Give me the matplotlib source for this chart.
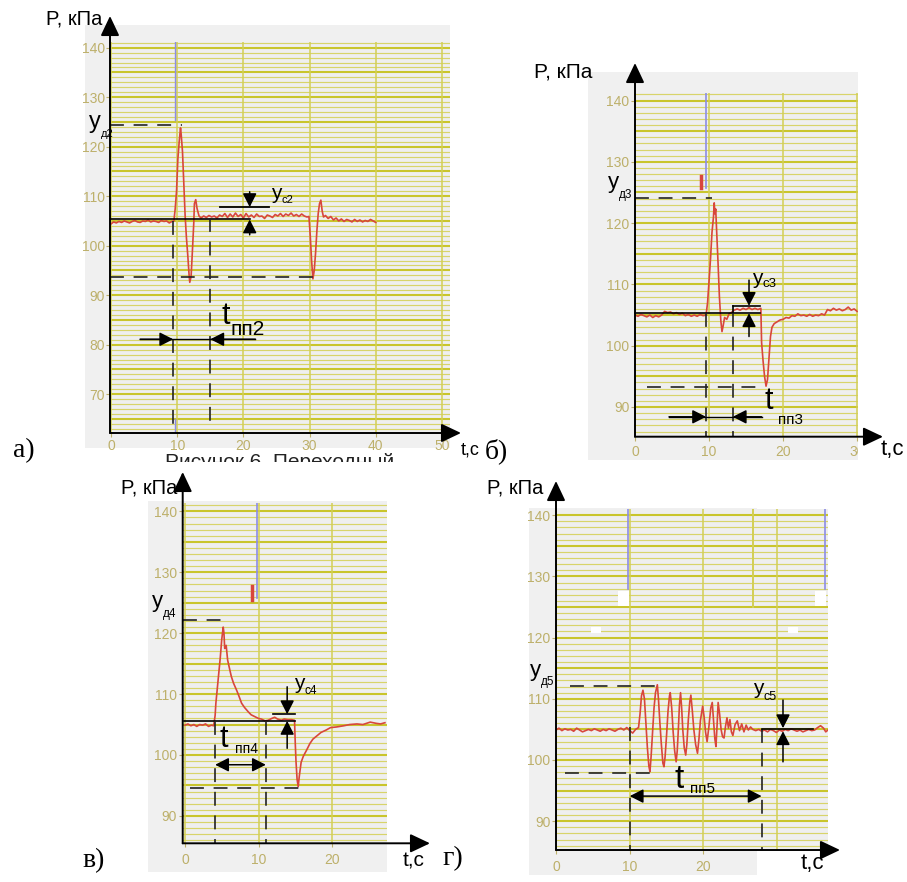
import math
import matplotlib
matplotlib.use('Agg')
import matplotlib.pyplot as plt
from matplotlib.patches import Rectangle
from matplotlib.transforms import Bbox

plt.rcParams['font.family'] = ['Liberation Sans', 'DejaVu Sans']
plt.rcParams['lines.scale_dashes'] = False

# ------------------------------------------------------------------ data
# panel а
ta = [0, 0.4, 0.8, 1.2, 1.6, 2.0, 2.4, 2.8, 3.2, 3.6, 4.0, 4.4, 4.8, 5.2, 5.6, 6.0, 6.4, 6.8, 7.2, 7.6,
      8.0, 8.4, 8.8, 9.2, 9.5, 9.7, 9.9, 10.1, 10.3, 10.5, 10.6, 10.8, 11.0, 11.2, 11.4, 11.6, 11.8, 11.9,
      12.1, 12.3, 12.5, 12.6, 12.8, 13.0, 13.3, 13.6, 14.0, 14.4, 14.8, 15.2, 15.6, 16.0, 16.4, 16.8, 17.2,
      17.6, 18.0, 18.4, 18.8, 19.2, 19.6, 20.0, 20.4, 20.8, 21.2, 21.6, 22.0, 22.4, 22.8, 23.2, 23.6, 24.0,
      24.4, 24.8, 25.2, 25.6, 26.0, 26.4, 26.8, 27.2, 27.6, 28.0, 28.4, 28.8, 29.2, 29.6, 29.9, 30.1, 30.3,
      30.5, 30.7, 30.9, 31.1, 31.3, 31.5, 31.7, 31.9, 32.1, 32.4, 32.8, 33.2, 33.6, 34.0, 34.4, 34.8, 35.2,
      35.6, 36.0, 36.4, 36.8, 37.2, 37.6, 38.0, 38.4, 38.8, 39.2, 39.6, 40.0]
pa = [104.4, 104.8, 104.6, 104.9, 104.7, 105.0, 104.8, 104.6, 104.9, 105.1, 104.8, 104.7, 105.0, 104.9,
      105.2, 104.8, 105.0, 104.9, 104.7, 105.1, 104.9, 105.0, 104.6, 104.9, 105.0, 107.5, 111.0, 117.5,
      121.0, 123.8, 122.5, 119.0, 112.5, 106.0, 101.5, 98.0, 94.0, 92.6, 93.8, 99.0, 104.5, 108.5, 109.3,
      107.5, 106.0, 105.6, 106.0, 105.7, 106.1, 105.8, 106.0, 105.6, 106.2, 105.9, 106.5, 105.7, 106.4,
      105.8, 106.6, 105.9, 106.3, 105.6, 106.5, 105.8, 106.2, 105.7, 106.4, 105.9, 106.0, 105.5, 106.2,
      106.0, 105.7, 106.3, 106.0, 106.5, 105.9, 106.4, 106.1, 106.6, 106.0, 106.3, 105.9, 106.4, 106.0,
      105.8, 105.9, 102.0, 97.0, 93.3, 95.0, 98.5, 103.0, 106.5, 108.5, 109.2, 107.0, 105.8, 106.1, 105.5,
      105.9, 105.2, 105.6, 105.0, 105.4, 104.9, 105.3, 105.1, 104.8, 105.3, 104.9, 105.2, 104.8, 105.1,
      104.9, 105.3, 105.0, 104.7]

# panel б
tb = [0, 0.4, 0.8, 1.2, 1.6, 2.0, 2.4, 2.8, 3.2, 3.6, 4.0, 4.4, 4.8, 5.2, 5.6, 6.0, 6.4, 6.8, 7.2, 7.6,
      8.0, 8.4, 8.8, 9.2, 9.6, 9.8, 10.0, 10.2, 10.4, 10.6, 10.7, 10.8, 10.9, 11.0, 11.2, 11.4, 11.6, 11.75,
      11.9, 12.1, 12.4, 12.7, 13.0, 13.4, 13.8, 14.2, 14.6, 15.0, 15.4, 15.8, 16.2, 16.6, 17.0, 17.1, 17.3,
      17.5, 17.7, 17.9, 18.1, 18.3, 18.5, 18.8, 19.2, 19.6, 20.0, 20.4, 20.8, 21.2, 21.6, 22.0, 22.4, 22.8,
      23.2, 23.6, 24.0, 24.4, 24.8, 25.2, 25.6, 26.0, 26.4, 26.8, 27.2, 27.6, 28.0, 28.4, 28.8, 29.2, 29.6,
      30.0]
pb = [105.0, 104.8, 105.1, 104.9, 104.7, 105.0, 104.6, 104.9, 104.7, 105.0, 105.6, 105.4, 105.5, 105.2,
      105.4, 105.1, 105.3, 104.9, 105.1, 104.8, 105.0, 104.8, 105.1, 104.9, 105.0, 107.0, 110.5, 114.2,
      118.5, 121.0, 123.3, 121.5, 122.3, 119.5, 114.0, 108.0, 104.0, 102.3, 103.2, 104.6, 104.3, 105.2,
      105.4, 105.8, 106.0, 105.8, 106.1, 105.9, 106.2, 105.9, 106.1, 105.9, 106.1, 100.5, 97.5, 95.0, 93.4,
      94.5, 98.0, 101.5, 103.0, 103.6, 103.9, 104.2, 104.3, 104.6, 104.5, 104.9, 104.8, 105.2, 104.9, 105.0,
      104.8, 105.1, 104.8, 105.0, 104.9, 105.2, 105.0, 105.9, 105.7, 106.1, 105.8, 106.0, 105.7, 105.9,
      106.3, 105.8, 106.0, 105.6]

# panel в
tc = [0, 0.4, 0.8, 1.2, 1.6, 2.0, 2.4, 2.8, 3.2, 3.6, 3.9, 4.1, 4.2, 4.4, 4.6, 4.8, 5.0, 5.2, 5.3, 5.4,
      5.6, 5.8, 6.0, 6.3, 6.6, 7.0, 7.3, 7.7, 8.1, 8.6, 9.0, 9.5, 10.0, 10.4, 10.9, 11.3, 11.8, 12.2, 12.6,
      13.1, 13.5, 14.0, 14.5, 14.9, 15.0, 15.1, 15.25, 15.4, 15.55, 15.8, 16.1, 16.5, 17.0, 17.4, 18.0,
      18.5, 19.2, 19.8, 20.6, 21.6, 22.4, 23.4, 24.2, 25.2, 26.0, 26.6, 27.2]
pc = [104.9, 105.1, 104.8, 105.0, 104.7, 105.0, 104.9, 105.1, 104.7, 104.9, 104.8, 106.5, 108.5, 111.0,
      113.5, 116.0, 119.0, 121.0, 120.0, 117.5, 118.0, 115.6, 114.5, 112.9, 111.8, 110.7, 109.8, 108.5,
      107.8, 107.1, 106.6, 106.3, 106.0, 105.9, 105.6, 105.7, 106.0, 106.2, 105.9, 105.7, 105.9, 105.8,
      105.8, 105.7, 102.0, 99.0, 96.0, 94.8, 96.5, 98.8, 99.8, 100.7, 101.9, 102.6, 103.2, 103.7, 104.1,
      104.5, 104.6, 104.8, 105.0, 105.1, 105.0, 105.4, 105.2, 105.1, 105.3]

# panel г
td = [0, 0.4, 0.8, 1.2, 1.6, 2.0, 2.4, 2.8, 3.2, 3.6, 4.0, 4.4, 4.8, 5.2, 5.6, 6.0, 6.4, 6.8, 7.2, 7.6,
      8.0, 8.4, 8.8, 9.2, 9.6, 10.0, 10.4, 10.8, 11.2, 11.4, 11.6, 11.8, 12.0, 12.2, 12.4, 12.6, 12.75,
      12.9, 13.1, 13.3, 13.5, 13.75, 13.9, 14.1, 14.3, 14.5, 14.65, 14.8, 15.0, 15.2, 15.4, 15.5, 15.7,
      15.9, 16.1, 16.3, 16.45, 16.6, 16.75, 16.9, 17.05, 17.2, 17.4, 17.6, 17.75, 17.95, 18.15, 18.3, 18.5,
      18.7, 18.95, 19.2, 19.4, 19.6, 19.9, 20.1, 20.3, 20.5, 20.75, 21.0, 21.2, 21.4, 21.55, 21.7, 21.85,
      22.0, 22.2, 22.4, 22.6, 22.8, 23.0, 23.2, 23.4, 23.6, 23.8, 24.0, 24.3, 24.6, 24.9, 25.2, 25.5, 25.8,
      26.1, 26.4, 26.7, 27.1, 27.5, 27.9, 28.3, 28.7, 29.1, 29.5, 29.9, 30.3, 30.7, 31.1, 31.5, 31.9, 32.3,
      32.7, 33.1, 33.5, 33.9, 34.3, 34.7, 35.1, 35.5, 35.9, 36.3, 36.6, 36.9]
pd_ = [104.9, 105.2, 104.8, 105.1, 104.9, 105.0, 104.7, 105.2, 104.9, 104.6, 104.8, 105.0, 104.8, 105.1,
       104.9, 104.7, 105.0, 104.8, 105.1, 104.9, 104.7, 105.0, 105.2, 104.9, 105.3, 104.8, 104.4, 105.0,
       105.3, 107.5, 110.5, 111.4, 110.0, 106.0, 102.0, 99.0, 98.1, 100.5, 104.5, 108.5, 111.0, 112.3,
       110.0, 106.0, 102.5, 99.5, 98.9, 100.5, 104.0, 108.0, 110.5, 111.0, 108.5, 104.5, 101.5, 99.7,
       101.5, 105.0, 109.0, 111.0, 108.5, 105.0, 102.0, 100.8, 102.5, 106.5, 109.5, 110.6, 108.0, 105.0,
       102.5, 101.1, 103.5, 106.5, 108.8, 107.0, 104.5, 103.0, 105.5, 108.5, 109.4, 106.0, 103.5, 102.2,
       105.5, 109.4, 107.5, 105.0, 103.8, 103.6, 105.5, 106.9, 105.2, 106.6, 104.6, 104.0, 105.8, 106.4,
       104.8, 105.9, 104.6, 105.7, 104.9, 105.4, 105.0, 104.8, 105.0, 104.7, 104.9, 104.6, 105.0, 104.8,
       104.5, 104.9, 104.7, 105.0, 104.8, 105.1, 104.9, 104.7, 104.9, 104.6, 104.8, 105.0, 104.8, 104.9,
       105.3, 105.6, 105.2, 104.6, 104.9]

xticks_a = [0, 10, 20, 30, 40, 50]
yticks_a = [70, 80, 90, 100, 110, 120, 130, 140]
xticks_b = [0, 10, 20, 30]
xticks_cd = [0, 10, 20]
yticks_bcd = [90, 100, 110, 120, 130, 140]

# ------------------------------------------------------------------ styles
W, H = 907, 882
fig = plt.figure(figsize=(W / 100, H / 100), dpi=100)
fig.patch.set_facecolor('white')

BG = '#efefef'
THIN = '#d8d46a'
THICK = '#c9c52c'
VGRID = '#d3cf55'
TICKC = '#bdb06a'
RED = '#d8463c'
BLUE = '#8c8ce6'
DK = '#222222'
DASH = (10, 7)


def fx(px):
    return px / W


def fy(py):
    return 1 - py / H


def grey(l, t, r, b):
    fig.add_artist(Rectangle((fx(l), fy(b)), (r - l) / W, (b - t) / H, transform=fig.transFigure,
                             facecolor='#f0f0f0', edgecolor='none', zorder=-2))


def panel(box, mp, xt, yt, fs, xpad, ypad, tips):
    l, t, r, b = box
    x0, sx, y100, sy = mp
    ax = fig.add_axes([fx(l), fy(b), (r - l) / W, (b - t) / H])
    ax.set_facecolor(BG)
    xl, xh = (l - x0) / sx, (r - x0) / sx
    yl, yh = 100 - (b - y100) / sy, 100 + (y100 - t) / sy
    ax.set_xlim(xl, xh)
    ax.set_ylim(yl, yh)
    for s in ax.spines.values():
        s.set_visible(False)
    for v in range(math.ceil(yl), math.floor(yh) + 1):
        if v % 5 == 0:
            ax.axhline(v, color=THICK, lw=1.5, zorder=1)
        else:
            ax.axhline(v, color=THIN, lw=0.85, zorder=1)
    for v in range(0, int(xh) + 1, 10):
        ax.axvline(v, color=VGRID, lw=1.1, zorder=1.1)
    ax.set_xticks(xt)
    ax.set_yticks(yt)
    ax.tick_params(colors=TICKC, labelcolor=TICKC, labelsize=fs, length=3, width=0.8)
    ax.tick_params(axis='x', pad=xpad)
    ax.tick_params(axis='y', pad=ypad)
    tx = (tips[0] - l) / (r - l)
    ty = (b - tips[1]) / (b - t)
    ap = dict(arrowstyle='-|>,head_length=0.55,head_width=0.26', color='k', lw=1.4,
              shrinkA=0, shrinkB=0, mutation_scale=22)
    ax.annotate('', xy=(0, ty), xytext=(0, 0), xycoords='axes fraction', arrowprops=ap,
                annotation_clip=False, zorder=6)
    ax.annotate('', xy=(tx, 0), xytext=(0, 0), xycoords='axes fraction', arrowprops=ap,
                annotation_clip=False, zorder=6)
    return ax


def line(ax, xs, ys, dashed=False, lw=1.2):
    if dashed:
        ax.plot(xs, ys, color=DK, lw=lw, dashes=DASH, clip_on=False, zorder=4)
    else:
        ax.plot(xs, ys, color='k', lw=lw, clip_on=False, zorder=4)


def arr(ax, x1, y1, x2, y2, style='-|>', ms=15):
    ax.annotate('', xy=(x2, y2), xytext=(x1, y1),
                arrowprops=dict(arrowstyle=style + ',head_length=0.55,head_width=0.28', color='k', lw=1.1,
                                shrinkA=0, shrinkB=0, mutation_scale=ms),
                annotation_clip=False, zorder=5)


def sym(ax, xb, y_main, y_sub, main, sub, fs_main, fs_sub, xsub=None):
    """main symbol ends at xb, subscript starts at xsub (default xb)"""
    ax.text(xb, y_main, main, fontsize=fs_main, ha='right', va='center', color='k',
            clip_on=False, zorder=6)
    ax.text(xb if xsub is None else xsub, y_sub, sub, fontsize=fs_sub, ha='left', va='center',
            color='k', clip_on=False, zorder=6)


# grey backgrounds
grey(85, 25, 450, 448)
grey(588, 72, 858, 460)
grey(148, 501, 387, 872)
grey(529, 508, 757, 875)

# ------------------------------------------------------------------ panel а
ax = panel((110, 42, 450, 433), (111, 6.62, 245.7, 4.95), xticks_a, yticks_a, 10, 1.0, 0.5, (461, 16))
ax.plot([9.67, 9.67], [125.4, 141.5], color=BLUE, lw=1.0, zorder=2)
ax.plot([9.67, 9.67], [62.2, 65.0], color=BLUE, lw=1.0, zorder=2)
ax.plot(ta, pa, color=RED, lw=1.2, zorder=3)
line(ax, [-0.15, 10.8], [124.4, 124.4], dashed=True)
line(ax, [-0.15, 21.0], [105.3, 105.3])
line(ax, [-0.15, 30.5], [93.7, 93.7], dashed=True)
line(ax, [9.4, 9.4], [105.0, 63.2], dashed=True)
line(ax, [15.0, 15.0], [105.5, 63.2], dashed=True)
line(ax, [16.5, 23.8], [107.8, 107.8], lw=1.3)
line(ax, [4.4, 21.8], [81.1, 81.1], lw=1.0)
arr(ax, 4.4, 81.1, 9.4, 81.1)
arr(ax, 21.8, 81.1, 15.0, 81.1)
arr(ax, 20.95, 110.9, 20.95, 107.8)
arr(ax, 20.95, 102.2, 20.95, 105.3)
sym(ax, -1.5, 124.9, 122.6, 'у', 'д2', 17, 8)
sym(ax, 25.8, 110.5, 109.2, 'у', 'с2', 15, 8)
sym(ax, 18.0, 85.8, 83.0, 't', 'пп2', 22, 15)

# ------------------------------------------------------------------ panel б
ax = panel((635, 93.3, 857.7, 436.7), (634.5, 7.42, 345.7, 6.13), xticks_b, yticks_bcd, 10, 3, 1,
           (883, 63))
lab30 = ax.xaxis.get_major_ticks()[3].label1
lab30.set_clip_box(Bbox.from_extents(0, 0, 858, H))
lab30.set_clip_on(True)
ax.plot([9.6, 9.6], [125.8, 141.5], color=BLUE, lw=1.2, zorder=2)
ax.plot([8.85, 8.85], [125.8, 127.7], color=RED, lw=2.5, zorder=3)
ax.plot(tb, pb, color=RED, lw=1.2, zorder=3)
line(ax, [0, 10.4], [124.1, 124.1], dashed=True)
line(ax, [0, 16.9], [105.3, 105.3])
line(ax, [13.2, 16.9], [106.5, 106.5])
line(ax, [13.2, 13.2], [106.5, 105.3])
line(ax, [1.6, 17.6], [93.3, 93.3], dashed=True)
line(ax, [9.6, 9.6], [105.3, 85.2], dashed=True)
line(ax, [13.2, 13.2], [105.3, 85.2], dashed=True)
line(ax, [4.6, 17.1], [88.4, 88.4], lw=1.0)
arr(ax, 4.6, 88.4, 9.6, 88.4)
arr(ax, 17.1, 88.4, 13.2, 88.4)
arr(ax, 15.4, 110.7, 15.4, 106.5)
arr(ax, 15.4, 101.5, 15.4, 105.3)
sym(ax, -2.2, 126.6, 124.6, 'у', 'д3', 16, 8.5)
sym(ax, 17.2, 111.0, 110.1, 'у', 'с3', 15, 9.5)
sym(ax, 18.7, 90.9, 87.9, 't', 'пп3', 22, 11, xsub=19.3)

# ------------------------------------------------------------------ panel в
ax = panel((182.7, 503.3, 386.7, 843.3), (185, 7.35, 755, 6.09), xticks_cd, yticks_bcd, 10, 4, 1,
           (430, 472))
ax.plot([9.75, 9.75], [125.7, 141.5], color=BLUE, lw=1.2, zorder=2)
ax.plot([9.1, 9.1], [125.5, 127.8], color=RED, lw=2.5, zorder=3)
ax.plot(tc, pc, color=RED, lw=1.2, zorder=3)
line(ax, [-0.3, 5.3], [122.1, 122.1], dashed=True)
line(ax, [-0.2, 15.0], [105.6, 105.6])
line(ax, [0.7, 15.6], [94.6, 94.6], dashed=True)
line(ax, [4.1, 4.1], [105.6, 85.5], dashed=True)
line(ax, [11.0, 11.0], [105.6, 85.5], dashed=True)
line(ax, [12.0, 15.0], [106.7, 106.7])
arr(ax, 4.1, 98.4, 11.0, 98.4, style='<|-|>')
arr(ax, 13.9, 111.2, 13.9, 106.7)
arr(ax, 13.9, 101.1, 13.9, 105.6)
sym(ax, -3.0, 125.2, 123.2, 'у', 'д4', 16, 8.5)
sym(ax, 16.2, 111.8, 110.5, 'у', 'с4', 15, 8.5)
sym(ax, 5.9, 102.6, 101.0, 't', 'пп4', 22, 10, xsub=6.8)

# ------------------------------------------------------------------ panel г
ax = panel((556, 509.3, 828.3, 850), (556, 7.37, 760, 6.12), xticks_cd, yticks_bcd, 10, 4, 1,
           (840, 481))
ax.plot([26.7, 26.7], [125.0, 141.5], color=VGRID, lw=1.4, zorder=1.2)
ax.plot([9.8, 9.8], [127.9, 141.5], color=BLUE, lw=1.2, zorder=2)
ax.plot([36.5, 36.5], [127.9, 141.5], color=BLUE, lw=1.2, zorder=2)
for (x1, x2, y1, y2) in [(8.4, 9.95, 125.2, 127.6), (4.75, 6.1, 120.7, 121.8),
                         (35.1, 36.7, 125.2, 127.6), (31.5, 32.9, 120.7, 121.8)]:
    ax.add_patch(Rectangle((x1, y1), x2 - x1, y2 - y1, facecolor='white', edgecolor='none', zorder=2.5))
ax.plot(td, pd_, color=RED, lw=1.2, zorder=3)
line(ax, [1.9, 13.4], [112.1, 112.1], dashed=True)
line(ax, [1.2, 12.7], [97.9, 97.9], dashed=True)
line(ax, [10.0, 10.0], [105.4, 85.3], dashed=True)
line(ax, [27.9, 27.9], [105.0, 85.3], dashed=True)
line(ax, [27.9, 34.9], [105.0, 105.0])
arr(ax, 10.0, 94.1, 27.9, 94.1, style='<|-|>')
arr(ax, 30.8, 109.8, 30.8, 105.2)
arr(ax, 30.8, 99.7, 30.8, 104.7)
sym(ax, -2.0, 114.7, 112.8, 'у', 'д5', 16, 8.5)
sym(ax, 28.1, 111.7, 110.3, 'у', 'с5', 15, 9)
sym(ax, 17.3, 96.8, 95.3, 't', 'пп5', 24, 11, xsub=18.2)

# ------------------------------------------------------------------ outer labels
for (x, y, s, fs) in [(74, 19, 'P, кПа', 14.5), (563, 72, 'P, кПа', 15),
                      (149, 488, 'P, кПа', 14.5), (515, 488, 'P, кПа', 14.5)]:
    fig.text(fx(x), fy(y), s, fontsize=fs, ha='center', va='center', color='k', zorder=7)
for (x, y, s, fs) in [(470, 450, 't,с', 13), (892, 450, 't,с', 16),
                      (414, 861, 't,с', 15), (812, 863, 't,с', 16)]:
    fig.text(fx(x), fy(y), s, fontsize=fs, ha='center', va='center', color='k', zorder=7)
for (x, y, s) in [(24, 451, 'а)'), (496, 451, 'б)'), (94, 861, 'в)'), (453, 859, 'г)')]:
    fig.text(fx(x), fy(y), s, fontsize=20, ha='center', va='center', color='k',
             family=['Liberation Serif', 'DejaVu Serif'], zorder=7)

cap = fig.text(fx(280), fy(453), 'Рисунок 6. Переходный', fontsize=15, ha='center', va='top',
               color='#222222', zorder=7)
cap.set_clip_box(Bbox.from_extents(0, H - 462, W, H))
cap.set_clip_on(True)

fig.savefig('out.png', dpi=100, facecolor='white')
